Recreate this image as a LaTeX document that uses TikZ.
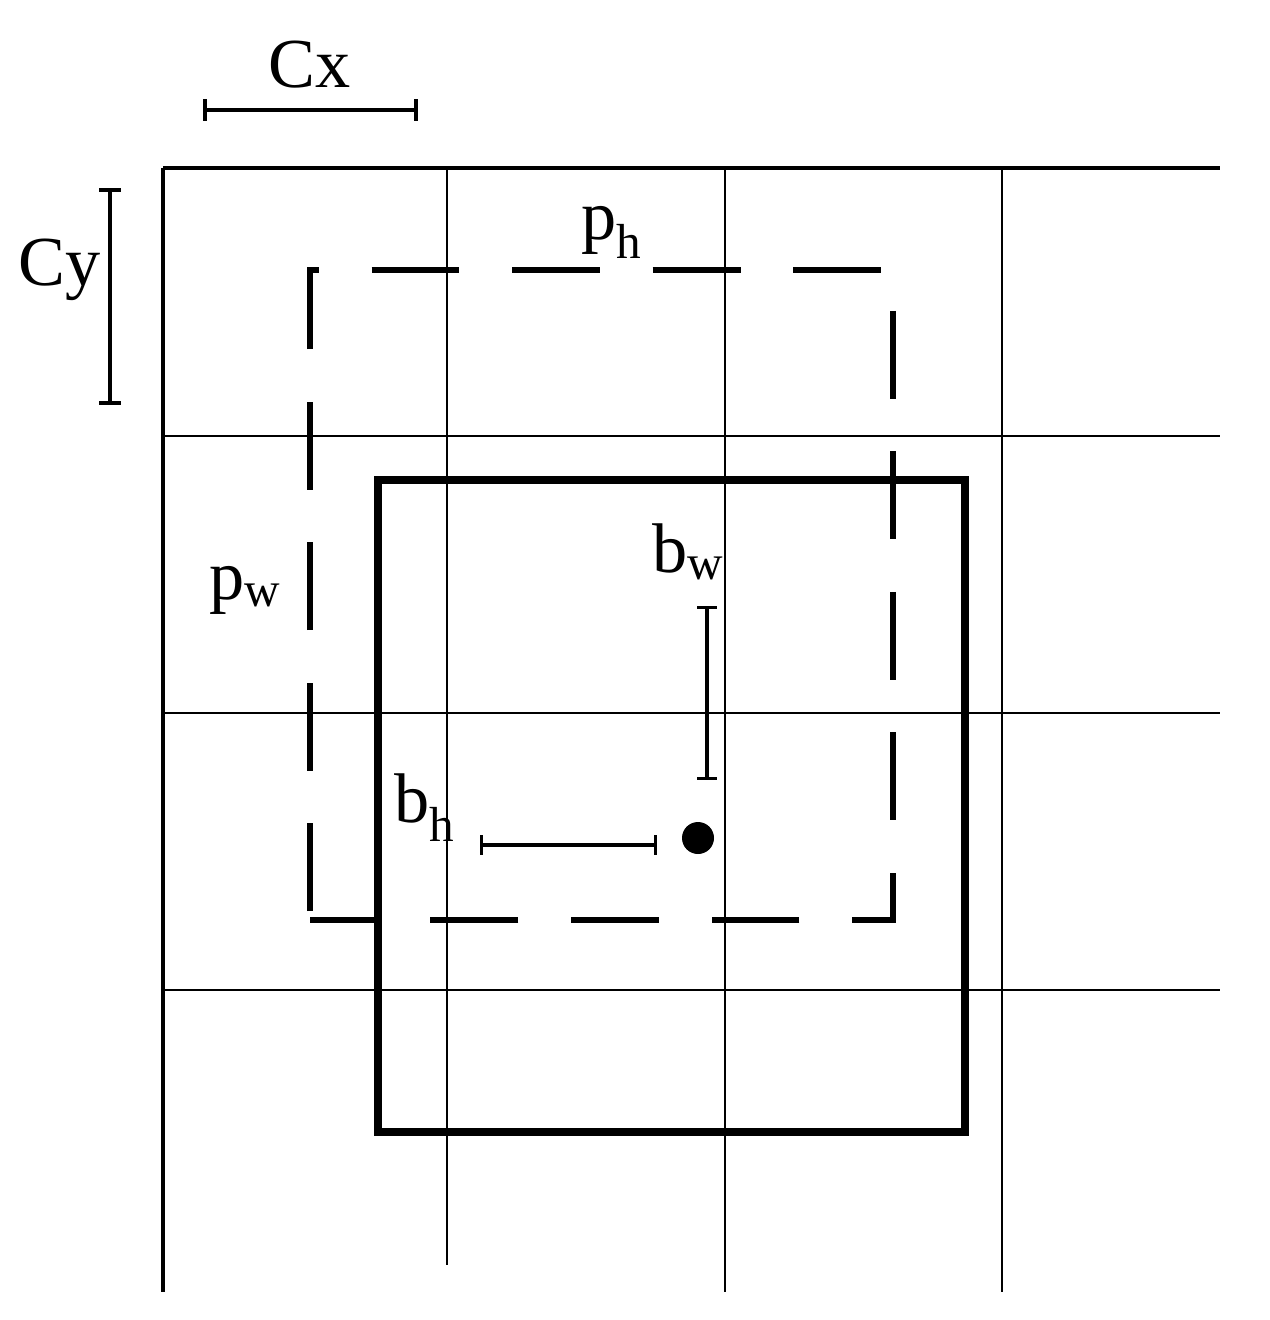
\documentclass[tikz,border=0pt]{standalone}
\usepackage{fontspec}
\setmainfont{Liberation Serif}
\begin{document}
\begin{tikzpicture}[x=0.02cm,y=-0.02cm,
  grid/.style={line width=1.2pt},
  bar/.style={line width=2.2pt,|-|},
  lbl/.style={font=\fontsize{40}{44}\selectfont, inner sep=0pt}]
\useasboundingbox (0,0) rectangle (1270,1320);
% grid
\draw[line width=2pt] (163,168) -- (1220,168);
\draw[line width=2pt] (163,168) -- (163,1292);
\foreach \x/\e in {447/1265,725/1292,1002/1292} \draw[grid] (\x,168) -- (\x,\e);
\foreach \y in {436,713,990} \draw[grid] (163,\y) -- (1220,\y);
% boxes
\draw[line width=4.5pt] (378,480) rectangle (965,1132);
\draw[line width=3.5pt, dash pattern=on 50pt off 30pt, dash phase=-5pt] (310,920) -- (310,270) -- (893,270) -- (893,920) -- cycle;
% bars
\draw[bar] (203,110) -- (418,110);
\draw[bar] (110,188) -- (110,405);
\draw[line width=1.8pt,|-|] (707,606) -- (707,780);
\draw[line width=1.8pt,|-|] (480,845) -- (657,845);
\fill (698,838) circle (16);
% labels
\node[lbl] (cx) at (310,65) {Cx};
\node[lbl] (cy) at (60,270) {Cy};
\node[lbl] (ph) at (612,232) {p\textsubscript{h}};
\node[lbl] (pw) at (245,590) {p\textsubscript{w}};
\node[lbl] (bw) at (688,552) {b\textsubscript{w}};
\node[lbl] (bh) at (425,808) {b\textsubscript{h}};
\end{tikzpicture}
\end{document}
